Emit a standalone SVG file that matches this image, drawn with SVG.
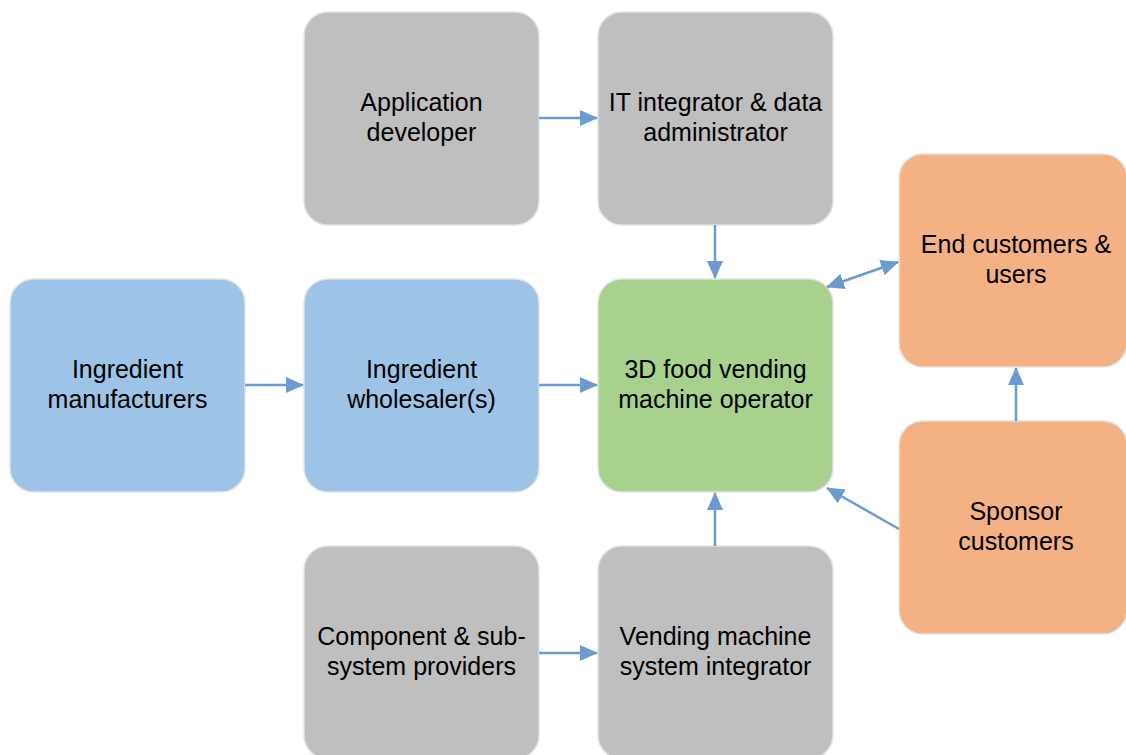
<svg xmlns="http://www.w3.org/2000/svg" width="1126" height="755" viewBox="0 0 1126 755">
<style>
.box{stroke:#e3e3e3;stroke-width:1.5}
.gray{fill:#bfbfbf}.blue{fill:#9dc3e6}.green{fill:#a9d18e}.orange{fill:#f4b183}
text{font-family:"Liberation Sans",Arial,sans-serif;font-size:25px;fill:#000;text-anchor:middle}
.c{stroke:#6c9bd2;stroke-width:2.5;fill:none;marker-end:url(#ah)}
</style>
<defs>
<marker id="ah" markerUnits="userSpaceOnUse" markerWidth="18" markerHeight="16" refX="17" refY="8" orient="auto-start-reverse">
<path d="M0,0 L18,8 L0,16 Z" fill="#6c9bd2"/>
</marker>
</defs>
<rect width="1126" height="755" fill="#fff"/>
<g id="app-dev"><rect class="box gray" x="304" y="12" width="235" height="213" rx="24"/><text x="421.5" y="111">Application</text><text x="421.5" y="141">developer</text></g>
<g id="it-integrator"><rect class="box gray" x="598" y="12" width="235" height="213" rx="24"/><text x="715.5" y="111">IT integrator &amp; data</text><text x="715.5" y="141">administrator</text></g>
<g id="ing-man"><rect class="box blue" x="10" y="279" width="235" height="213" rx="24"/><text x="127.5" y="378">Ingredient</text><text x="127.5" y="408">manufacturers</text></g>
<g id="ing-whole"><rect class="box blue" x="304" y="279" width="235" height="213" rx="24"/><text x="421.5" y="378">Ingredient</text><text x="421.5" y="408">wholesaler(s)</text></g>
<g id="operator"><rect class="box green" x="598" y="279" width="235" height="213" rx="24"/><text x="715.5" y="378">3D food vending</text><text x="715.5" y="408">machine operator</text></g>
<g id="end-customers"><rect class="box orange" x="899" y="154" width="228" height="213" rx="24"/><text x="1016" y="253">End customers &amp;</text><text x="1016" y="283">users</text></g>
<g id="sponsor"><rect class="box orange" x="899" y="421" width="228" height="213" rx="24"/><text x="1016" y="520">Sponsor</text><text x="1016" y="550">customers</text></g>
<g id="component"><rect class="box gray" x="304" y="546" width="235" height="213" rx="24"/><text x="421.5" y="645">Component &amp; sub-</text><text x="421.5" y="675">system providers</text></g>
<g id="vending-int"><rect class="box gray" x="598" y="546" width="235" height="213" rx="24"/><text x="715.5" y="645">Vending machine</text><text x="715.5" y="675">system integrator</text></g>
<g id="connectors">
<line class="c" x1="539" y1="118" x2="597" y2="118"/>
<line class="c" x1="715" y1="225" x2="715" y2="278"/>
<line class="c" x1="245" y1="385" x2="303" y2="385"/>
<line class="c" x1="539" y1="385" x2="597" y2="385"/>
<line class="c" x1="715" y1="546" x2="715" y2="493"/>
<line class="c" x1="539" y1="653" x2="597" y2="653"/>
<line class="c" x1="1016" y1="421" x2="1016" y2="368"/>
<line class="c" x1="899" y1="529" x2="827" y2="488"/>
<line class="c" x1="827" y1="287" x2="898" y2="262" style="marker-start:url(#ah)"/>
</g>
</svg>
